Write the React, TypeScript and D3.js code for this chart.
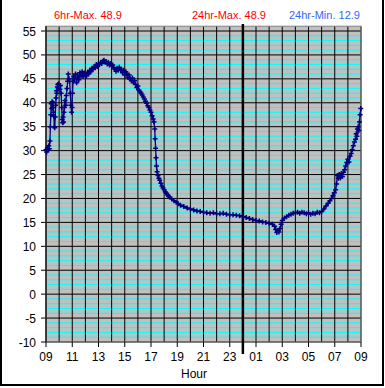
import * as d3 from 'd3';

// minutes after 09:00 and temperature readings
const minutes = [
  0, 3, 6, 9, 12, 15, 18, 20, 22, 24, 26, 28, 30, 32, 34, 36, 38, 40, 42, 44, 46, 48, 50, 52, 54, 56, 58, 60,
  63, 66, 69, 72, 74, 76, 78, 80, 82, 84, 87, 90, 93, 96, 99, 102, 105, 108, 111, 114, 117, 119, 121, 124, 127,
  130, 135, 140, 145, 150, 155, 160, 165, 170, 175, 180, 185, 190, 195, 200, 205, 210, 215, 220, 225, 230, 235, 240, 245,
  250, 255, 260, 265, 270, 275, 280, 285, 290, 295, 300, 305, 310, 315, 320, 325, 330, 335, 340, 345, 350, 355, 360,
  365, 370, 375, 380, 385, 390, 395, 400, 405, 410, 415, 420, 425, 430, 435, 440, 445, 450, 455, 460, 465, 470,
  475, 480, 485, 490, 494, 497, 499, 501, 503, 505, 508, 512, 516, 520, 525, 530, 535, 540, 545, 550, 555, 560, 565,
  575, 585, 595, 605, 615, 630, 645, 660, 675, 690, 705,
  720, 735, 750, 765, 780, 795, 810, 825, 840, 855, 870, 885, 900,
  915, 930, 945, 960, 975, 990, 1005, 1020, 1035, 1045, 1050, 1055, 1060, 1065, 1070, 1075,
  1080, 1090, 1100, 1110, 1120, 1130, 1140, 1150, 1160, 1170, 1180, 1190, 1200, 1210, 1220, 1230, 1240, 1250,
  1260, 1270, 1280, 1290, 1298, 1305, 1312, 1318, 1324, 1328, 1332, 1336, 1340, 1345, 1350, 1355, 1360, 1365,
  1370, 1375, 1380, 1385, 1390, 1395, 1400, 1405, 1410, 1415, 1418, 1421, 1424, 1427, 1430, 1433, 1436, 1439,
];

const temps = [
  30.2, 29.7, 30.6, 30.1, 31.0, 30.4, 32.0, 35.0, 37.5, 39.8, 38.8, 40.2, 39.0, 40.0, 38.0, 37.2, 35.0, 34.8, 37.0, 39.5, 41.0, 42.5, 42.0, 43.3, 43.8, 43.0, 44.0, 43.5,
  42.8, 43.6, 42.0, 39.0, 36.5, 35.8, 37.0, 36.0, 38.0, 39.0, 40.5, 39.5, 41.5, 43.0, 44.5, 46.0, 45.0, 44.5, 42.0, 39.5, 38.0, 39.0, 42.0, 44.5, 45.5,
  45.0, 46.0, 44.2, 45.8, 44.8, 46.3, 45.6, 46.5, 45.5, 46.2, 45.8, 45.6, 46.4, 46.0, 46.8, 46.5, 47.2, 47.0, 47.6, 47.3, 48.0, 47.6, 48.2, 48.0,
  48.4, 48.2, 48.7, 48.9, 48.5, 48.6, 48.1, 48.4, 47.9, 48.2, 47.7, 47.9, 47.3, 47.0, 46.6, 47.2, 46.8, 47.4, 46.9, 47.0, 46.3, 46.8, 45.8,
  46.5, 46.0, 45.3, 45.8, 45.0, 44.6, 45.2, 44.2, 44.6, 43.8, 43.2, 43.5, 42.6, 42.3, 42.0, 41.6, 41.2, 40.8, 40.3, 39.9, 39.4, 39.0,
  38.5, 38.0, 37.3, 36.6, 36.0, 34.5, 32.5, 30.5, 28.5, 26.8, 25.6, 24.8, 24.2, 23.8, 23.2, 22.6, 22.2, 21.8, 21.4, 21.1, 20.8, 20.5, 20.3,
  19.9, 19.5, 19.2, 18.9, 18.6, 18.3, 18.0, 17.8, 17.6, 17.4, 17.3,
  17.1, 17.0, 16.9, 17.0, 16.8, 16.8, 16.9, 16.7, 16.6, 16.6, 16.5, 16.4, 16.2,
  16.0, 15.8, 15.6, 15.4, 15.3, 15.1, 15.0, 14.8, 14.6, 14.2, 13.5, 12.9, 13.3, 13.0, 13.7, 14.6,
  15.4, 15.9, 16.2, 16.5, 16.7, 16.9, 17.0, 17.1, 16.9, 17.1, 17.0, 16.8, 17.0, 16.7, 16.9, 16.8, 17.1, 17.0,
  17.3, 17.8, 18.4, 19.0, 19.5, 20.0, 20.6, 21.2, 21.8, 23.0, 24.8, 24.2, 25.0, 24.3, 25.2, 24.6, 25.5, 26.0,
  26.8, 27.5, 28.2, 27.6, 28.8, 29.4, 30.2, 31.0, 31.8, 32.4, 33.5, 33.0, 34.5, 35.0, 34.2, 36.0, 37.5, 38.8,
];

const hourLabels = ['09', '11', '13', '15', '17', '19', '21', '23', '01', '03', '05', '07', '09'];
const yTicks = d3.range(-10, 56, 5);
const minorTicks = d3.range(-10, 56, 1).filter((v) => v % 5 !== 0);
const headers = ['6hr-Max. 48.9', '24hr-Max. 48.9', '24hr-Min. 12.9'];

const font = '"Liberation Sans", Arial, sans-serif';

export default function App() {
  const x = d3.scaleLinear().domain([0, 1440]).range([46, 361]);
  const y = d3.scaleLinear().domain([-10, 55]).range([342, 31]);
  const top = y(56);
  const bottom = y(-10);
  const hours = d3.range(0, 1441, 60);
  const points = minutes.map((m, i) => [x(m), y(temps[i])] as [number, number]);
  const line = d3.line()(points) || '';
  const markers = points
    .map(([px, py]) => `M${px - 2.5},${py}h5M${px},${py - 2.5}v5`)
    .join('');

  return (
    <svg
      width={385}
      height={388}
      style={{ position: 'absolute', left: 0, top: 0, background: '#fff' }}
      fontFamily={font}
    >
      {/* chart frame */}
      <path d="M1,0V385H383V0" fill="none" stroke="#000" strokeWidth={2} />

      {/* header */}
      <text x={54} y={19} fontSize={11} fill="#ff0000">{headers[0]}</text>
      <text x={192} y={19} fontSize={11} fill="#ff0000">{headers[1]}</text>
      <text x={289} y={19} fontSize={11} fill="#3366ff">{headers[2]}</text>

      {/* plot area */}
      <rect x={x(0)} y={top} width={x(1440) - x(0)} height={bottom - top} fill="#c0c0c0" />
      {minorTicks.map((v) => (
        <line key={'m' + v} x1={x(0)} x2={x(1440)} y1={y(v)} y2={y(v)} stroke="#00ffff" strokeWidth={1} />
      ))}
      {yTicks.map((v) => (
        <line key={'g' + v} x1={x(0) - 5} x2={x(1440)} y1={y(v)} y2={y(v)} stroke="#000" strokeWidth={1} />
      ))}
      {hours.map((h) => (
        <line key={'h' + h} x1={x(h)} x2={x(h)} y1={top} y2={bottom} stroke="#000" strokeWidth={1} />
      ))}
      <rect x={x(0)} y={top} width={x(1440) - x(0)} height={bottom - top} fill="none" stroke="#808080" />

      {/* axes */}
      <line x1={x(0)} x2={x(0)} y1={top} y2={bottom} stroke="#000" />
      {yTicks.map((v) => (
        <text key={'t' + v} x={36} y={y(v) + 4.5} fontSize={12} textAnchor="end" fill="#000">{v}</text>
      ))}
      {hourLabels.map((lab, i) => (
        <g key={'x' + i}>
          <line x1={x(i * 120)} x2={x(i * 120)} y1={bottom} y2={bottom + 5} stroke="#000" />
          <text x={x(i * 120)} y={361} fontSize={12} textAnchor="middle" fill="#000">{lab}</text>
        </g>
      ))}
      <text x={194} y={378} fontSize={12} textAnchor="middle" fill="#000">Hour</text>

      {/* midnight marker */}
      <line x1={x(900)} x2={x(900)} y1={24} y2={354} stroke="#000" strokeWidth={2.5} />

      {/* temperature series */}
      <path d={line} fill="none" stroke="#000080" strokeWidth={1.3} />
      <path d={markers} fill="none" stroke="#000080" strokeWidth={1.5} />
    </svg>
  );
}
